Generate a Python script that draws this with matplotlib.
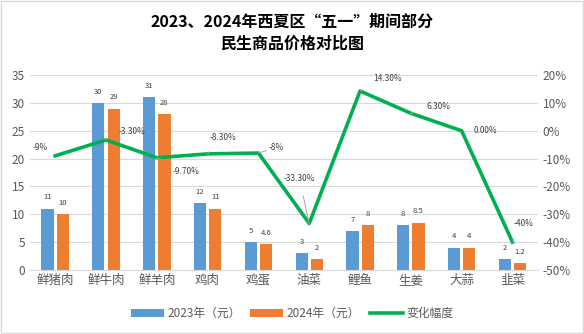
import matplotlib.pyplot as plt
import numpy as np

plt.rcParams['font.family'] = ['Noto Sans CJK SC', 'DejaVu Sans']

cats = ['鲜猪肉', '鲜牛肉', '鲜羊肉', '鸡肉', '鸡蛋', '油菜', '鲤鱼', '生姜', '大蒜', '韭菜']
p2023 = [11, 30, 31, 12, 5, 3, 7, 8, 4, 2]
p2024 = [10, 29, 28, 11, 4.6, 2, 8, 8.5, 4, 1.2]
change = [-9, -3.3, -9.7, -8.3, -8, -33.3, 14.3, 6.3, 0, -40]
change_lbl = ['-9%', '-3.30%', '-9.70%', '-8.30%', '-8%', '-33.30%', '14.30%', '6.30%', '0.00%', '-40%']

blue = '#5b9bd5'
orange = '#ed7d31'
green = '#00b050'
grey = '#595959'

fig = plt.figure(figsize=(5.84, 3.34), dpi=100)
ax = fig.add_axes([0.051, 0.192, 0.87, 0.583])
x = np.arange(len(cats))
w = 0.24
b1 = ax.bar(x - 0.15, p2023, w, color=blue, label='2023年（元）', zorder=2)
b2 = ax.bar(x + 0.15, p2024, w, color=orange, label='2024年（元）', zorder=2)
for i in range(len(cats)):
    ax.text(x[i] - 0.15, p2023[i] + 1.3, f'{p2023[i]:g}', ha='center', va='bottom', fontsize=5.5, color='#404040')
    ax.text(x[i] + 0.15, p2024[i] + 1.3, f'{p2024[i]:g}', ha='center', va='bottom', fontsize=5.5, color='#404040')

ax.set_xlim(-0.5, len(cats) - 0.5)
ax.set_ylim(0, 35)
ax.set_yticks(range(0, 36, 5))
ax.set_xticks(x)
ax.set_xticklabels(cats, fontsize=9, color=grey)
ax.tick_params(axis='y', labelsize=8.5, colors=grey, length=0)
ax.tick_params(axis='x', length=0, pad=3)
ax.grid(axis='y', color='#d9d9d9', linewidth=0.8, zorder=0)
for s in ax.spines.values():
    s.set_visible(False)
ax.spines['bottom'].set_visible(True)
ax.spines['bottom'].set_color('#d9d9d9')

ax2 = ax.twinx()
ax2.set_ylim(-50, 20)
ax2.set_yticks(range(-50, 21, 10))
ax2.set_yticklabels([f'{v}%' for v in range(-50, 21, 10)])
ax2.tick_params(axis='y', labelsize=8.5, colors=grey, length=0)
for s in ax2.spines.values():
    s.set_visible(False)
ln, = ax2.plot(x, change, color=green, linewidth=2.6, label='变化幅度', zorder=3)

# label offsets in points (dx, dy) and whether a leader line is drawn
offs = [(-11, 6, False), (19, 6, True), (21, -10, True), (11, 12, True), (13, 4, True),
        (-7, 32, True), (20, 9, True), (20, 5, True), (17, 0, False), (8, 13, True)]
for i, (dx, dy, lead) in enumerate(offs):
    ax2.annotate(change_lbl[i], (x[i], change[i]), xytext=(dx, dy), textcoords='offset points',
                 fontsize=6, color='#404040', ha='center', va='center',
                 arrowprops=dict(arrowstyle='-', color='#a6a6a6', lw=0.7, shrinkA=7, shrinkB=0) if lead else None,
                 zorder=4)

h = [b1, b2, ln]
fig.legend(h, [a.get_label() for a in h], loc='center', bbox_to_anchor=(0.5, 0.062), ncol=3,
           frameon=False, fontsize=8.5, handlelength=2.8, columnspacing=0.8, handletextpad=0.3,
           labelcolor=grey)

fig.text(0.5, 0.935, '2023、2024年西夏区“五一”期间部分', ha='center', va='center', fontsize=11.5, fontweight='bold')
fig.text(0.5, 0.87, '民生商品价格对比图', ha='center', va='center', fontsize=11.5, fontweight='bold')

fig.patches.append(plt.Rectangle((0.002, 0.003), 0.996, 0.994, transform=fig.transFigure,
                                 fill=False, edgecolor='#d9d9d9', linewidth=1))
fig.savefig('out.png', dpi=100)
